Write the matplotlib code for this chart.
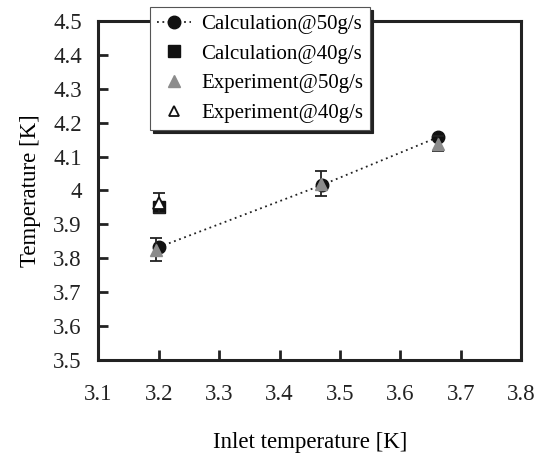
import matplotlib
matplotlib.use('Agg')
import matplotlib.pyplot as plt
from matplotlib.lines import Line2D
import numpy as np

plt.rcParams['font.family'] = ['Liberation Serif', 'DejaVu Serif']

# data
calc50_x = [3.2, 3.47, 3.662]
calc50_y = [3.833, 4.016, 4.157]
calc40_x = [3.2]
calc40_y = [3.951]
exp50_x = [3.195, 3.469, 3.663]
exp50_y = [3.826, 4.02, 4.138]
exp50_err = [0.034, 0.037, 0.022]
exp40_x = [3.2]
exp40_y = [3.963]
exp40_err = [0.03]

xticks = [3.1, 3.2, 3.3, 3.4, 3.5, 3.6, 3.7, 3.8]
xticklabels = ['3.1', '3.2', '3.3', '3.4', '3.5', '3.6', '3.7', '3.8']
yticks = [3.5, 3.6, 3.7, 3.8, 3.9, 4.0, 4.1, 4.2, 4.3, 4.4, 4.5]
yticklabels = ['3.5', '3.6', '3.7', '3.8', '3.9', '4', '4.1', '4.2', '4.3', '4.4', '4.5']

fig = plt.figure(figsize=(5.44, 4.53), dpi=100)
ax = fig.add_axes([0.181, 0.205, 0.777, 0.749])

ax.plot(calc50_x, calc50_y, ls=(0, (1, 2)), color='#222222', lw=1.3,
        marker='o', ms=9, mfc='#111111', mec='#111111', zorder=3)
ax.plot(calc40_x, calc40_y, ls='none', marker='s', ms=9, mfc='#111111', mec='#111111', zorder=3)
ax.errorbar(exp50_x, exp50_y, yerr=exp50_err, fmt='^', ms=9, mfc='#8c8c8c', mec='#8c8c8c',
            ecolor='#222222', elinewidth=1.3, capsize=4, capthick=1.3, zorder=4)
ax.errorbar(exp40_x, exp40_y, yerr=exp40_err, fmt='^', ms=8, mfc='white', mec='#111111', mew=1.3,
            ecolor='#222222', elinewidth=1.3, capsize=4, capthick=1.3, zorder=4)

ax.set_xlim(3.1, 3.8)
ax.set_ylim(3.5, 4.5)
ax.set_xticks(xticks)
ax.set_xticklabels(xticklabels)
ax.set_yticks(yticks)
ax.set_yticklabels(yticklabels)
ax.tick_params(direction='in', length=7, width=2, labelsize=16.5, colors='#222222')
ax.tick_params(axis='x', pad=17.5)
ax.tick_params(axis='y', pad=12)
for s in ax.spines.values():
    s.set_linewidth(2.2)
    s.set_color('#222222')

ax.set_xlabel('Inlet temperature [K]', fontsize=16.5, labelpad=19)
ax.set_ylabel('Temperature [K]', fontsize=16.5, labelpad=9)

handles = [
    Line2D([], [], ls=(0, (1, 2)), color='#222222', lw=1.3, marker='o', ms=9,
           mfc='#111111', mec='#111111'),
    Line2D([], [], ls='none', marker='s', ms=8, mfc='#111111', mec='#111111'),
    Line2D([], [], ls='none', marker='^', ms=8, mfc='#8c8c8c', mec='#8c8c8c'),
    Line2D([], [], ls='none', marker='^', ms=7, mfc='white', mec='#111111', mew=1.3),
]
labels = ['Calculation@50g/s', 'Calculation@40g/s', 'Experiment@50g/s', 'Experiment@40g/s']
leg = ax.legend(handles, labels, loc='upper left', bbox_to_anchor=(0.122, 1.04),
                fontsize=15, frameon=True, fancybox=False, framealpha=1,
                edgecolor='#555555', handlelength=1.6, handletextpad=0.5,
                borderpad=0.35, labelspacing=0.48, borderaxespad=0,
                shadow={'color': '#222222', 'alpha': 1})
leg.get_frame().set_linewidth(0.8)
leg.set_zorder(10)

fig.savefig('out.png', dpi=100)
